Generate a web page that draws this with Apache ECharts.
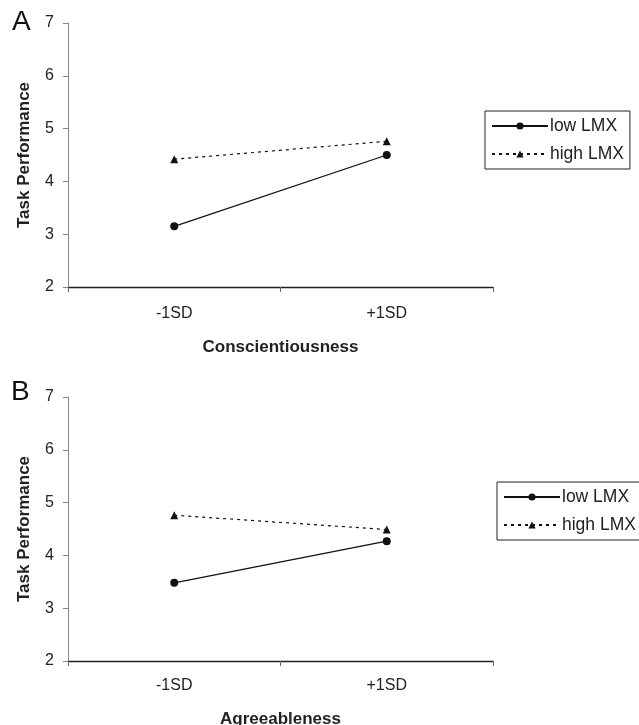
<!DOCTYPE html>
<html>
<head>
<meta charset="utf-8">
<script src="https://cdn.jsdelivr.net/npm/echarts@6/dist/echarts.min.js"></script>
<style>
html,body{margin:0;padding:0;background:#fff;}
#c{width:639px;height:725px;}
</style>
</head>
<body>
<div id="c"></div>
<script>
var categories = ['-1SD', '+1SD'];
var seriesNames = ['low LMX', 'high LMX'];
var panelA_low = [3.15, 4.50];
var panelA_high = [4.42, 4.76];
var panelB_low = [3.48, 4.27];
var panelB_high = [4.76, 4.49];
var yTicks = [2, 3, 4, 5, 6, 7];
var xNames = ['Conscientiousness', 'Agreeableness'];
var panelLabels = ['A', 'B'];

var FONT = 'Liberation Sans, Arial, sans-serif';
var chart = echarts.init(document.getElementById('c'));

function xAxis(idx, name, gap, margin) {
  return {
    type: 'category', gridIndex: idx, data: categories, boundaryGap: true,
    name: name, nameLocation: 'middle', nameGap: gap,
    nameTextStyle: {fontFamily: FONT, fontSize: 17, fontWeight: 'bold', color: '#222'},
    axisLine: {lineStyle: {color: '#222', width: 1.3}},
    axisTick: {show: true, alignWithLabel: false, length: 5, lineStyle: {color: '#666'}},
    axisLabel: {fontFamily: FONT, fontSize: 16, color: '#222', margin: margin}
  };
}
function yAxis(idx) {
  return {
    type: 'value', gridIndex: idx, min: yTicks[0], max: yTicks[yTicks.length - 1], interval: 1,
    name: 'Task Performance', nameLocation: 'middle', nameGap: 35, nameRotate: 90,
    nameTextStyle: {fontFamily: FONT, fontSize: 17, fontWeight: 'bold', color: '#222'},
    axisLine: {show: true, lineStyle: {color: '#888', width: 1}},
    axisTick: {show: true, length: 5, lineStyle: {color: '#888'}},
    axisLabel: {fontFamily: FONT, fontSize: 16, color: '#222', margin: 14},
    splitLine: {show: false}
  };
}
function lowSeries(idx, data) {
  return {
    name: seriesNames[0], type: 'line', xAxisIndex: idx, yAxisIndex: idx, data: data,
    symbol: 'circle', symbolSize: 8, itemStyle: {color: '#111'},
    lineStyle: {color: '#111', width: 1.3, type: 'solid'}, animation: false
  };
}
function highSeries(idx, data) {
  return {
    name: seriesNames[1], type: 'line', xAxisIndex: idx, yAxisIndex: idx, data: data,
    symbol: 'triangle', symbolSize: 8, itemStyle: {color: '#111'},
    lineStyle: {color: '#111', width: 1.2, type: [3, 4]}, animation: false
  };
}
function legend(top, left) {
  return {
    data: seriesNames, orient: 'vertical', top: top, left: left,
    itemWidth: 56, itemHeight: 9, itemGap: 10,
    borderColor: '#222', borderWidth: 1, padding: [6, 6, 6, 6],
    textStyle: {fontFamily: FONT, fontSize: 17.5, color: '#222', padding: [0, 0, 0, -3]}
  };
}

chart.setOption({
  animation: false,
  title: [
    {text: panelLabels[0], left: 12, top: 8, padding: 0, textStyle: {fontFamily: FONT, fontSize: 28, fontWeight: 'normal', color: '#111'}},
    {text: panelLabels[1], left: 11, top: 378, padding: 0, textStyle: {fontFamily: FONT, fontSize: 28, fontWeight: 'normal', color: '#111'}}
  ],
  grid: [
    {left: 68, top: 23, width: 425, height: 264, outerBoundsMode: 'none', containLabel: false},
    {left: 68, top: 397, width: 425, height: 264, outerBoundsMode: 'none', containLabel: false}
  ],
  xAxis: [xAxis(0, xNames[0], 52, 19), xAxis(1, xNames[1], 50, 17)],
  yAxis: [yAxis(0), yAxis(1)],
  legend: [legend(111, 485), legend(482, 497)],
  series: [
    lowSeries(0, panelA_low), highSeries(0, panelA_high),
    lowSeries(1, panelB_low), highSeries(1, panelB_high)
  ]
});
</script>
</body>
</html>
